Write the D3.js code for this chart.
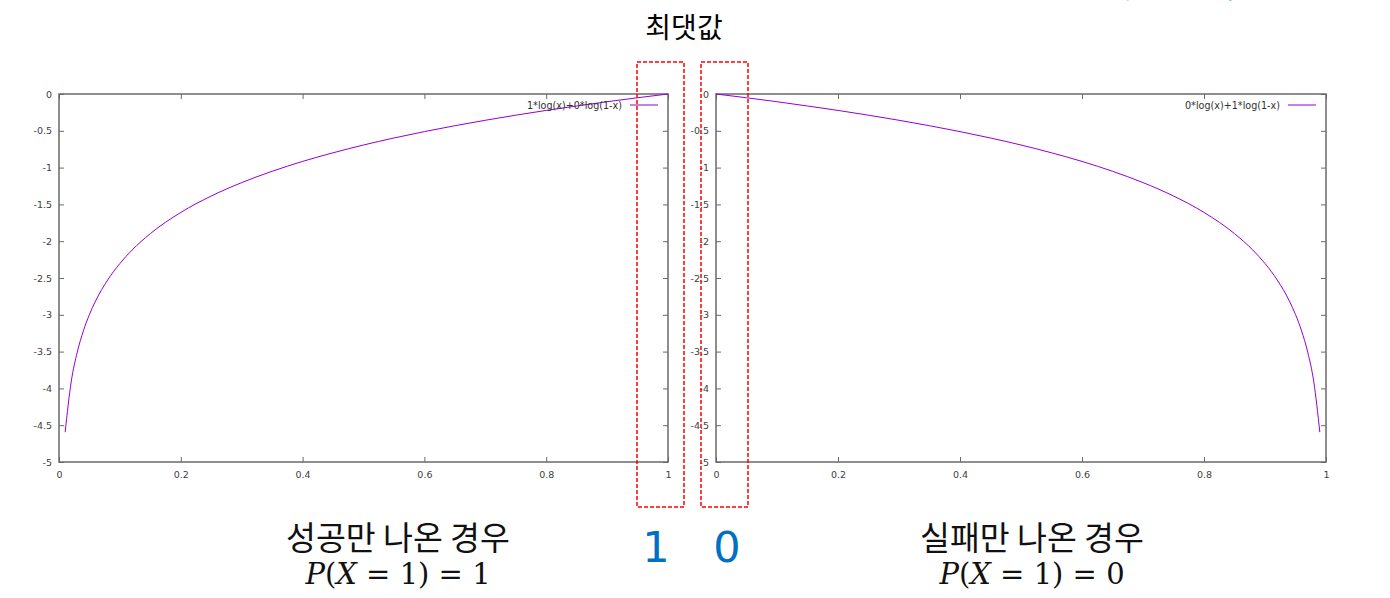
<!DOCTYPE html>
<html>
<head>
<meta charset="utf-8">
<script src="https://cdn.jsdelivr.net/npm/d3@7"></script>
<style>
  html, body { margin: 0; padding: 0; background: #fff; }
  svg { display: block; }
</style>
</head>
<body>
<svg id="chart" width="1390" height="598"></svg>
<script>
// ---- data ----
const leftX  = [0.0101, 0.02, 0.03, 0.04, 0.05, 0.06, 0.08, 0.1, 0.12, 0.15, 0.2, 0.25, 0.3, 0.35, 0.4, 0.45, 0.5, 0.55, 0.6, 0.65, 0.7, 0.75, 0.8, 0.85, 0.9, 0.95, 1.0];
const leftY  = [-4.595, -3.912, -3.507, -3.219, -2.996, -2.813, -2.526, -2.303, -2.120, -1.897, -1.609, -1.386, -1.204, -1.050, -0.916, -0.799, -0.693, -0.598, -0.511, -0.431, -0.357, -0.288, -0.223, -0.163, -0.105, -0.051, 0];
const rightX = [0, 0.05, 0.1, 0.15, 0.2, 0.25, 0.3, 0.35, 0.4, 0.45, 0.5, 0.55, 0.6, 0.65, 0.7, 0.75, 0.8, 0.85, 0.88, 0.9, 0.92, 0.94, 0.95, 0.96, 0.97, 0.98, 0.9899];
const rightY = [0, -0.051, -0.105, -0.163, -0.223, -0.288, -0.357, -0.431, -0.511, -0.598, -0.693, -0.799, -0.916, -1.050, -1.204, -1.386, -1.609, -1.897, -2.120, -2.303, -2.526, -2.813, -2.996, -3.219, -3.507, -3.912, -4.595];
const xTicks = [0, 0.2, 0.4, 0.6, 0.8, 1];
const yTicks = [0, -0.5, -1, -1.5, -2, -2.5, -3, -3.5, -4, -4.5, -5];
const legendLabels = ["1*log(x)+0*log(1-x)", "0*log(x)+1*log(1-x)"];
const titleText = "최댓값";
const captionTexts = ["성공만 나온 경우", "실패만 나온 경우"];
const probValues = ["1", "0"];
const bigDigits = ["1", "0"];
const topNote = "확률을 높이는 방향으로";

const svg = d3.select("#chart");

const panels = [
  { x0: 59, x1: 668, xs: leftX, ys: leftY, legend: legendLabels[0], legendEnd: 622 },
  { x0: 716, x1: 1326, xs: rightX, ys: rightY, legend: legendLabels[1], legendEnd: 1280 }
];
const yTop = 94, yBot = 462;
const lineColor = "#9400d3";
const borderColor = "#6a6a6a";

panels.forEach(p => {
  const x = d3.scaleLinear().domain([0, 1]).range([p.x0, p.x1]);
  const y = d3.scaleLinear().domain([-5, 0]).range([yBot, yTop]);
  const g = svg.append("g");

  const styleAxis = sel => {
    sel.select(".domain").remove();
    sel.selectAll(".tick line").attr("stroke", borderColor).attr("stroke-width", 1);
    sel.selectAll(".tick text").attr("fill", "#404040")
      .style("font-family", "DejaVu Sans, sans-serif").style("font-size", "9.5px");
  };

  g.append("g").attr("transform", `translate(${p.x0},0)`)
    .call(d3.axisLeft(y).tickValues(yTicks).tickFormat(d => String(d)).tickSizeInner(-5).tickSizeOuter(0).tickPadding(7))
    .call(styleAxis);
  g.append("g").attr("transform", `translate(${p.x1},0)`)
    .call(d3.axisRight(y).tickValues(yTicks).tickFormat("").tickSizeInner(-5).tickSizeOuter(0))
    .call(styleAxis);
  g.append("g").attr("transform", `translate(0,${yBot})`)
    .call(d3.axisBottom(x).tickValues(xTicks).tickFormat(d => String(d)).tickSizeInner(-5).tickSizeOuter(0).tickPadding(9))
    .call(styleAxis);
  g.append("g").attr("transform", `translate(0,${yTop})`)
    .call(d3.axisTop(x).tickValues(xTicks).tickFormat("").tickSizeInner(-5).tickSizeOuter(0))
    .call(styleAxis);

  g.append("rect")
    .attr("x", p.x0).attr("y", yTop)
    .attr("width", p.x1 - p.x0).attr("height", yBot - yTop)
    .attr("fill", "none").attr("stroke", borderColor).attr("stroke-width", 1.5);

  const pts = p.xs.map((v, i) => [v, p.ys[i]]);
  g.append("path")
    .datum(pts)
    .attr("fill", "none")
    .attr("stroke", lineColor)
    .attr("stroke-width", 1)
    .attr("d", d3.line().x(d => x(d[0])).y(d => y(d[1])).curve(d3.curveMonotoneX));

  // legend
  g.append("text")
    .attr("x", p.legendEnd).attr("y", 108.5)
    .attr("text-anchor", "end")
    .attr("fill", "#303030")
    .style("font-family", "DejaVu Sans, sans-serif").style("font-size", "9.6px")
    .text(p.legend);
  g.append("line")
    .attr("x1", p.legendEnd + 8).attr("x2", p.legendEnd + 36)
    .attr("y1", 105).attr("y2", 105)
    .attr("stroke", lineColor).attr("stroke-width", 1);
});

// red dashed boxes
[[637, 684], [701, 748]].forEach(([a, b]) => {
  svg.append("rect")
    .attr("x", a).attr("y", 62).attr("width", b - a).attr("height", 445)
    .attr("fill", "none").attr("stroke", "#ff0000").attr("stroke-width", 1.5)
    .attr("stroke-dasharray", "4,2");
});

// title
svg.append("text")
  .attr("x", 684).attr("y", 38).attr("text-anchor", "middle")
  .style("font-family", "'Noto Sans CJK KR', sans-serif").style("font-size", "28px")
  .style("font-weight", "400")
  .attr("fill", "#000").text(titleText);

// top note (cut off at the top edge, as in the reference)
svg.append("text")
  .attr("x", 1360).attr("y", -1.8).attr("text-anchor", "end")
  .style("font-family", "'Noto Sans CJK KR', sans-serif").style("font-size", "26px")
  .attr("fill", "#00b050").text(topNote);

// big digits
[[656, bigDigits[0]], [727, bigDigits[1]]].forEach(([cx, t]) => {
  svg.append("text")
    .attr("x", cx).attr("y", 562).attr("text-anchor", "middle")
    .style("font-family", "'DejaVu Sans', sans-serif").style("font-size", "43px")
    .attr("fill", "#0070c0").text(t);
});

// captions
[[398, 0], [1032, 1]].forEach(([cx, i]) => {
  svg.append("text")
    .attr("x", cx).attr("y", 550).attr("text-anchor", "middle")
    .style("font-family", "'Noto Sans CJK KR', sans-serif").style("font-size", "32.5px")
    .style("font-weight", "400")
    .attr("fill", "#111").text(captionTexts[i]);
  const t = svg.append("text")
    .attr("x", cx).attr("y", 584).attr("text-anchor", "middle")
    .style("font-family", "'DejaVu Serif', serif").style("font-size", "29px")
    .attr("fill", "#111");
  t.append("tspan").style("font-style", "italic").text("P");
  t.append("tspan").text("(");
  t.append("tspan").style("font-style", "italic").text("X");
  t.append("tspan").text(" = 1) = " + probValues[i]);
});
</script>
</body>
</html>
